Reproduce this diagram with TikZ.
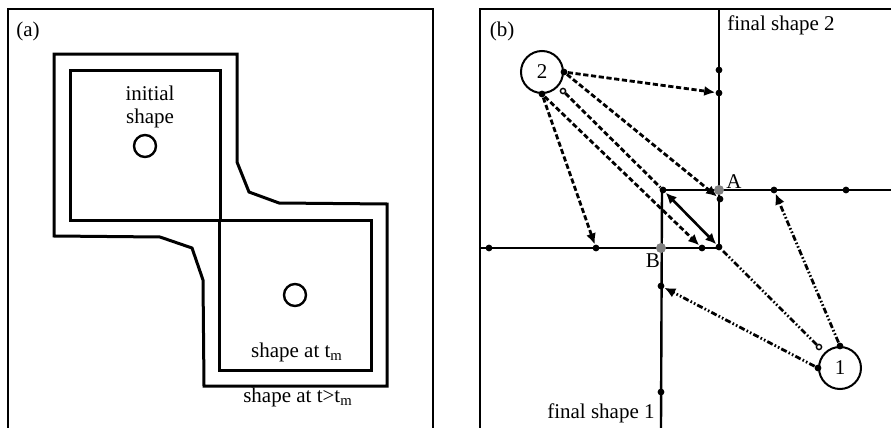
\documentclass[tikz,border=0pt]{standalone}
\usepackage{fontspec}
\setmainfont{Liberation Serif}
\usetikzlibrary{arrows.meta}
\tikzset{
  frame/.style={line width=1pt},
  outline/.style={line width=1.5pt,line join=miter},
  edge/.style={line width=1.2pt},
  pdot/.style={circle,fill=black,inner sep=0pt,minimum size=3.4pt},
  gdot/.style={circle,fill=gray,inner sep=0pt,minimum size=5pt},
  odot/.style={circle,draw=black,fill=white,line width=0.7pt,inner sep=0pt,minimum size=2.6pt},
  seed/.style={circle,draw,line width=1pt,inner sep=0pt,minimum size=21pt},
  lbl/.style={font=\fontsize{10.5}{11.5}\selectfont,inner sep=0pt},
  toB/.style={line width=1.4pt,dash pattern=on 2.6pt off 1.3pt,-{Latex[length=5.5pt,width=5pt]}},
  toA/.style={line width=1.4pt,dash pattern=on 3pt off 1.1pt on 0.8pt off 1.1pt on 0.8pt off 1.1pt,-{Latex[length=5.5pt,width=5pt]}}
}
\begin{document}
\begin{tikzpicture}[x=0.5pt,y=-0.5pt]
    \useasboundingbox (0,0) rectangle (891,428);
    % (a)
    \draw[frame] (8,428) -- (8,9) -- (433,9) -- (433,428);
    \node[lbl] (lab-a) at (28,31) {(a)};
    \draw[outline] (70,70) rectangle (220,220); % initial
    \draw[outline] (219,220) rectangle (371,370);
    \draw[outline] (54,54) -- (237,54) -- (237,162) -- (249,192) -- (279,203) -- (387,204)
        -- (387,386) -- (204,386) -- (203,280) -- (192,248) -- (160,237) -- (54,236) -- cycle;
    \node[circle,draw,line width=1.2pt,minimum size=11pt,inner sep=0pt] (ca1) at (145,146) {};
    \node[circle,draw,line width=1.2pt,minimum size=11pt,inner sep=0pt] (ca2) at (295,295) {};
    \node[lbl,align=center] (init) at (150,107) {initial\\shape};
    \node[lbl] (tm) at (297,352) {shape at t\textsubscript{m}};
    \node[lbl] (tgt) at (298,397) {shape at t>t\textsubscript{m}};

    % (b)
    \draw[frame] (480,428) -- (480,9) -- (891,9);
    \node[lbl] (lab-b) at (502,31) {(b)};
    \draw[edge] (719,9) -- (719,247);
    \draw[edge] (663,190) -- (891,190);
    \draw[edge] (662,190) -- (661,428);
    \draw[edge] (480,248) -- (719,248);
    \node[lbl,anchor=west] (fs2) at (727,25) {final shape 2};
    \node[lbl,anchor=east] (fs1) at (655,413) {final shape 1};

    \node[seed,lbl] (c2) at (542,72) {2};
    \node[seed,lbl] (c1) at (840,368) {1};

    \node[pdot] (d2r) at (c2.east) {};
    \node[pdot] (d2b) at (c2.south) {};
    \node[odot] (d2o) at (563,91) {};
    \node[pdot] (d1t) at (c1.north) {};
    \node[pdot] (d1l) at (c1.west) {};
    \node[odot] (d1o) at (819,347) {};

    \node[pdot] (p70) at (719,70) {};
    \node[pdot] (p93) at (719,93) {};
    \node[pdot] (p199) at (720,199) {};
    \node[pdot] (p774) at (774,190) {};
    \node[pdot] (p846) at (846,190) {};
    \node[pdot] (pTL) at (663,190) {};
    \node[pdot] (pBR) at (719,247) {};
    \node[pdot] (p702) at (702,248) {};
    \node[pdot] (p596) at (596,248) {};
    \node[pdot] (p489) at (489,248) {};
    \node[pdot] (p286) at (661,286) {};
    \node[pdot] (p392) at (661,392) {};
    \node[gdot] (A) at (719,190) {};
    \node[gdot] (B) at (661,248) {};
    \node[lbl] (lA) at (734,182) {A};
    \node[lbl] (lB) at (653,261) {B};

    % from seed 2
    \draw[toB] (d2r) -- (p93);
    \draw[toB] (d2r) -- (p199);
    \draw[toB] (d2b) -- (p596);
    \draw[toB] (d2b) -- (p702);
    \draw[toB,-] (d2o) -- (pTL);
    % overlap
    \draw[line width=1.3pt,{Latex[length=5.5pt,width=5pt]}-{Latex[length=5.5pt,width=5pt]}] (pTL) -- (pBR);
    % from seed 1
    \draw[toA,-] (d1o) -- (pBR);
    \draw[toA] (d1t) -- (p774);
    \draw[toA] (d1l) -- (p286);
\end{tikzpicture}
\end{document}
